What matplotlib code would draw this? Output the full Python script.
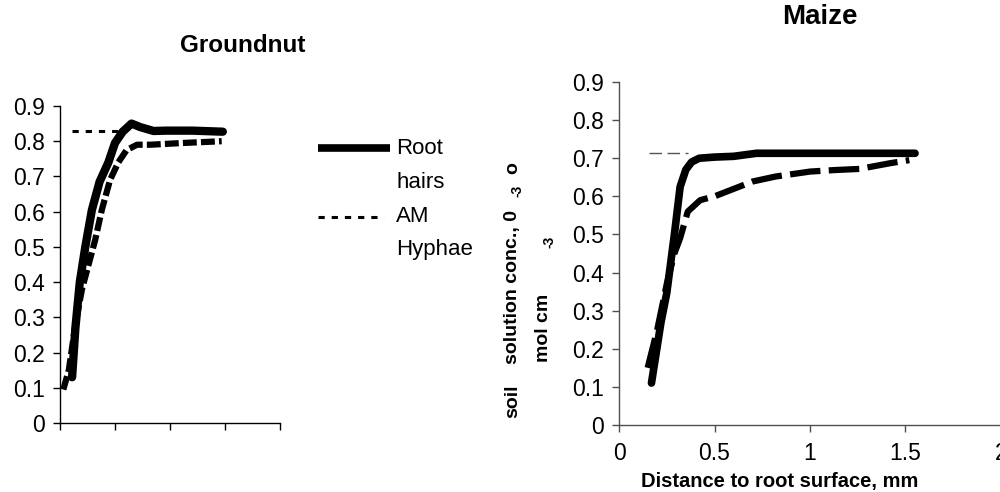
import matplotlib
matplotlib.use("Agg")
import matplotlib.pyplot as plt
from matplotlib.lines import Line2D

plt.rcParams['font.family'] = ['Liberation Sans', 'DejaVu Sans']
plt.rcParams['lines.scale_dashes'] = False

# ---------------- data ----------------
# Groundnut panel
gn_root_x = [0.11, 0.14, 0.18, 0.23, 0.29, 0.36, 0.44, 0.50, 0.57, 0.65, 0.73, 0.85, 0.97, 1.20, 1.48]
gn_root_y = [0.13, 0.27, 0.40, 0.50, 0.605, 0.685, 0.74, 0.795, 0.827, 0.850, 0.84, 0.829, 0.83, 0.83, 0.827]
gn_hyph_x = [0.11, 0.56]
gn_hyph_y = [0.83, 0.83]
gn_other_x = [0.03, 0.08, 0.14, 0.20, 0.26, 0.32, 0.38, 0.455, 0.53, 0.606, 0.70, 0.82, 1.12, 1.47]
gn_other_y = [0.095, 0.15, 0.28, 0.38, 0.45, 0.52, 0.605, 0.69, 0.74, 0.775, 0.79, 0.79, 0.795, 0.80]

# Maize panel
mz_root_x = [0.17, 0.22, 0.25, 0.29, 0.32, 0.35, 0.38, 0.42, 0.50, 0.60, 0.72, 1.00, 1.30, 1.55]
mz_root_y = [0.11, 0.27, 0.346, 0.50, 0.625, 0.67, 0.69, 0.70, 0.703, 0.705, 0.713, 0.713, 0.713, 0.713]
mz_hyph_x = [0.157, 0.36]
mz_hyph_y = [0.713, 0.713]
mz_other_x = [0.15, 0.20, 0.25, 0.29, 0.32, 0.36, 0.425, 0.50, 0.70, 0.82, 1.00, 1.13, 1.26, 1.42, 1.52]
mz_other_y = [0.15, 0.25, 0.37, 0.45, 0.49, 0.56, 0.59, 0.60, 0.639, 0.652, 0.665, 0.669, 0.672, 0.687, 0.695]

y_ticks = [0, 0.1, 0.2, 0.3, 0.4, 0.5, 0.6, 0.7, 0.8, 0.9]
y_ticklabels = ['0', '0.1', '0.2', '0.3', '0.4', '0.5', '0.6', '0.7', '0.8', '0.9']
x_ticks = [0, 0.5, 1, 1.5, 2]
x_ticklabels = ['0', '0.5', '1', '1.5', '2']

# ---------------- figure ----------------
fig = plt.figure(figsize=(10, 4.92), dpi=100)

def style_axes(ax, color):
    for s in ['top', 'right']:
        ax.spines[s].set_visible(False)
    for s in ['left', 'bottom']:
        ax.spines[s].set_color(color)
        ax.spines[s].set_linewidth(1.0)
    ax.tick_params(axis='both', direction='out', length=5, width=1.0, color=color,
                   labelsize=16.5, pad=6)
    ax.set_xlim(0, 2)
    ax.set_ylim(0, 0.9)
    ax.set_yticks(y_ticks)
    ax.set_yticklabels(y_ticklabels)
    ax.set_xticks(x_ticks)

# Groundnut
ax1 = fig.add_axes([0.060, 0.1402, 0.220, 0.6444])
style_axes(ax1, 'black')
ax1.set_xticklabels([''] * len(x_ticks))
ax1.plot(gn_other_x, gn_other_y, color='black', lw=4.5, linestyle=(0, (10, 3)),
         solid_capstyle='butt', zorder=2)
ax1.plot(gn_hyph_x, gn_hyph_y, color='black', lw=2.2, linestyle=(0, (4.5, 5)), zorder=2)
ax1.plot(gn_root_x, gn_root_y, color='black', lw=6.0, solid_capstyle='round',
         solid_joinstyle='round', zorder=3)
fig.text(0.243, 1 - 45 / 492, 'Groundnut', ha='center', va='center',
         fontsize=17.5, fontweight='bold')

# Maize
ax2 = fig.add_axes([0.619, 0.1362, 0.382, 0.6971])
style_axes(ax2, '#505050')
ax2.set_xticklabels(x_ticklabels)
ax2.tick_params(axis='x', pad=7)
ax2.plot(mz_hyph_x, mz_hyph_y, color='#555555', lw=1.0, linestyle=(0, (9, 4)), zorder=2)
ax2.plot(mz_other_x, mz_other_y, color='black', lw=4.5, linestyle=(0, (22, 6)),
         solid_capstyle='butt', zorder=2)
ax2.plot(mz_root_x, mz_root_y, color='black', lw=5.5, solid_capstyle='round',
         solid_joinstyle='round', zorder=3)
ax2.set_xlabel('Distance to root surface, mm', fontsize=14.5, fontweight='bold', labelpad=5)
ax2.xaxis.label.set_x((780 - 619) / 382)
fig.text(0.820, 1 - 17 / 492, 'Maize', ha='center', va='center',
         fontsize=20, fontweight='bold')

# garbled y label of maize panel
yl_kw = dict(rotation=90, ha='center', va='bottom', fontweight='bold', fontsize=14)
fig.text(0.513, 1 - 418 / 492, 'soil', **yl_kw)
fig.text(0.513, 1 - 364 / 492, 'solution conc., 0', **yl_kw)
fig.text(0.518, 1 - 197 / 492, '-3', rotation=90, ha='center', va='bottom',
         fontweight='bold', fontsize=10)
fig.text(0.513, 1 - 174 / 492, 'o', **yl_kw)
fig.text(0.543, 1 - 362 / 492, 'mol cm', **yl_kw)
fig.text(0.549, 1 - 248 / 492, '-3', rotation=90, ha='center', va='bottom',
         fontweight='bold', fontsize=10)

# legend (Groundnut)
fig.add_artist(Line2D([0.318, 0.390], [1 - 148 / 492] * 2, transform=fig.transFigure,
                      color='black', lw=5.5, solid_capstyle='butt'))
fig.add_artist(Line2D([0.318, 0.384], [1 - 217 / 492] * 2, transform=fig.transFigure,
                      color='black', lw=2.2, linestyle=(0, (4.5, 5))))
leg_kw = dict(ha='left', va='center', fontsize=16)
fig.text(0.396, 1 - 148 / 492, 'Root', **leg_kw)
fig.text(0.396, 1 - 182 / 492, 'hairs', **leg_kw)
fig.text(0.396, 1 - 217 / 492, 'AM', **leg_kw)
fig.text(0.396, 1 - 250 / 492, 'Hyphae', **leg_kw)

fig.savefig('out.png', dpi=100)
